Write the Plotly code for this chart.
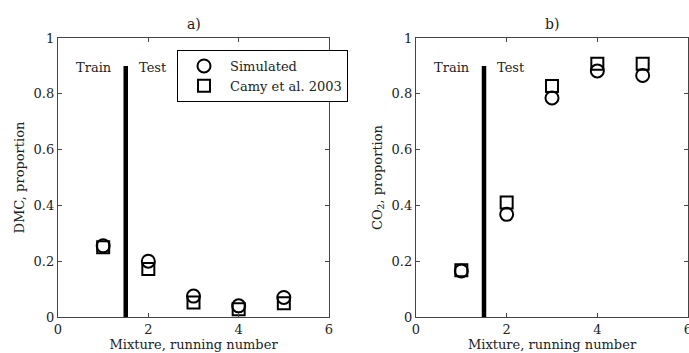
import plotly.graph_objects as go
from plotly.subplots import make_subplots

mixture = [1, 2, 3, 4, 5]
dmc_simulated = [0.255, 0.200, 0.075, 0.040, 0.070]
dmc_camy = [0.250, 0.172, 0.052, 0.028, 0.049]
co2_simulated = [0.165, 0.368, 0.785, 0.882, 0.866]
co2_camy = [0.168, 0.410, 0.828, 0.908, 0.908]
split_x = [1.5, 1.5]
split_y = [0, 0.9]
x_ticks = [0, 2, 4, 6]
y_ticks = [0, 0.2, 0.4, 0.6, 0.8, 1]

FONT = "DejaVu Serif"
W, H = 689, 353

fig = make_subplots(rows=1, cols=2)

panels = [
    (1, dmc_simulated, dmc_camy, "DMC, proportion", "a)"),
    (2, co2_simulated, co2_camy, "CO<sub>2</sub>, proportion", "b)"),
]
for col, sim, camy, ylab, ttl in panels:
    fig.add_trace(go.Scatter(x=split_x, y=split_y, mode="lines",
                             line=dict(color="black", width=4.5),
                             showlegend=False, hoverinfo="skip"), row=1, col=col)
    fig.add_trace(go.Scatter(x=mixture, y=camy, mode="markers", name="Camy et al. 2003",
                             marker=dict(symbol="square-open", size=12, color="black",
                                         line=dict(width=2, color="black")),
                             showlegend=(col == 1), legendrank=2), row=1, col=col)
    fig.add_trace(go.Scatter(x=mixture, y=sim, mode="markers", name="Simulated",
                             marker=dict(symbol="circle-open", size=13, color="black",
                                         line=dict(width=2, color="black")),
                             showlegend=(col == 1), legendrank=1), row=1, col=col)

axis_common = dict(showgrid=False, zeroline=False, showline=True, linecolor="#444",
                   linewidth=1.3, mirror="ticks", ticks="inside", ticklen=4,
                   tickcolor="#444", automargin=False, ticklabeloverflow="allow",
                   tickfont=dict(family=FONT, size=13, color="#222"))

x_dom = [(58 / W, 329 / W), (416 / W, 688 / W)]
y_dom = (1 - 317 / H, 1 - 38 / H)
for i, (col, sim, camy, ylab, ttl) in enumerate(panels):
    xa = "xaxis" if i == 0 else "xaxis2"
    ya = "yaxis" if i == 0 else "yaxis2"
    fig.layout[xa].update(domain=x_dom[i], range=[0, 6], tickvals=x_ticks,
                          title=dict(text="Mixture, running number", standoff=2,
                                     font=dict(family=FONT, size=13, color="#222")),
                          **axis_common)
    fig.layout[ya].update(domain=y_dom, range=[0, 1], tickvals=y_ticks,
                          ticktext=["0", "0.2", "0.4", "0.6", "0.8", "1"],
                          title=dict(text=ylab, standoff=6,
                                     font=dict(family=FONT, size=13, color="#222")),
                          **axis_common)
    xref = "x" if i == 0 else "x2"
    yref = "y" if i == 0 else "y2"
    fig.add_annotation(x=0.79, y=0.895, xref=xref, yref=yref, text="Train",
                       showarrow=False, yanchor="middle",
                       font=dict(family=FONT, size=13, color="#222"))
    fig.add_annotation(x=2.1, y=0.895, xref=xref, yref=yref, text="Test",
                       showarrow=False, yanchor="middle",
                       font=dict(family=FONT, size=13, color="#222"))
    cx = (x_dom[i][0] + x_dom[i][1]) / 2
    fig.add_annotation(x=cx, y=1 - 24 / H, xref="paper", yref="paper", text=ttl,
                       showarrow=False, xanchor="center", yanchor="middle",
                       font=dict(family=FONT, size=14, color="#222"))

fig.update_layout(
    width=W, height=H,
    margin=dict(l=0, r=0, t=0, b=0, autoexpand=False),
    paper_bgcolor="white", plot_bgcolor="white",
    font=dict(family=FONT, size=13, color="#222"),
    legend=dict(x=177 / W, y=1 - 50 / H, xanchor="left", yanchor="top",
                bordercolor="black", borderwidth=1, bgcolor="white",
                font=dict(family=FONT, size=13, color="#222"),
                traceorder="normal", tracegroupgap=0, itemwidth=42),
)

fig.write_html("out.html", config={"displayModeBar": False},
               post_script="document.body.style.margin='0';")
